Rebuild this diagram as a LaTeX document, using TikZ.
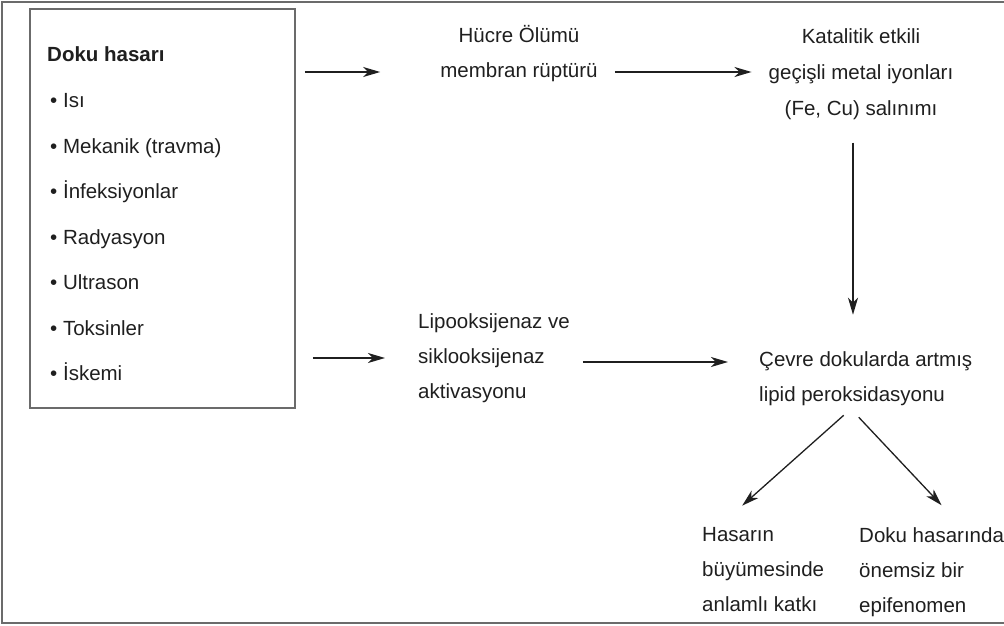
\documentclass[tikz,border=0pt]{standalone}
\usepackage{fontspec}
\setmainfont{Liberation Sans}
\usetikzlibrary{arrows.meta,calc}

\definecolor{ink}{HTML}{1F1F1F}
\definecolor{rim}{HTML}{6B6B6B}

\tikzset{
  lbl/.style={inner sep=0pt, text=ink, font=\fontsize{20.5}{35}\selectfont},
  arr/.style={draw=ink, line width=1.3pt, -{Stealth[length=17pt,width=10pt,inset=5pt]}},
}

\begin{document}
\begin{tikzpicture}[x=1pt,y=-1pt]
            \useasboundingbox (0,0) rectangle (1004,626);
            \draw[rim, line width=1.5pt] (1004,2) -- (2,2) -- (2,623) -- (1004,623);
            \node[draw=rim, line width=1.8pt, minimum width=265pt, minimum height=399pt, inner sep=0pt] (box) at (162.5,208.5) {};
            \node[lbl, anchor=base west, font=\fontsize{20.5}{35}\selectfont\bfseries] (title) at (47,62) {Doku hasarı};
            \foreach \t [count=\i] in {Isı, Mekanik (travma), İnfeksiyonlar, Radyasyon, Ultrason, Toksinler, İskemi}
                \node[lbl, anchor=base west] (item\i) at (50,62+45.5*\i) {\textbullet\ \t};

            \node[lbl, align=center] (hucre) at (519,54) {Hücre Ölümü\\membran rüptürü};
            \node[lbl, align=center, font=\fontsize{20.5}{36}\selectfont] (katalitik) at (861,74) {Katalitik etkili\\geçişli metal iyonları\\(Fe, Cu) salınımı};
            \node[lbl, align=left, anchor=west] (lipo) at (418,358) {Lipooksijenaz ve\\siklooksijenaz\\aktivasyonu};
            \node[lbl, align=left, anchor=west] (cevre) at (759,379) {Çevre dokularda artmış\\lipid peroksidasyonu};
            \node[lbl, align=left, anchor=west] (hasar) at (702,570) {Hasarın\\büyümesinde\\anlamlı katkı};
            \node[lbl, align=left, anchor=west] (epi) at (859,572) {Doku hasarında\\önemsiz bir\\epifenomen};

            \coordinate (row1) at (0,72);
            \coordinate (row2) at (0,358);
            \coordinate (row3) at (0,362);

            \draw[arr, shorten <=9pt, shorten >=60pt] (box.east |- row1) -- (hucre.west |- row1);
            \draw[arr, shorten <=17pt, shorten >=17pt] (hucre.east |- row1) -- (katalitik.west |- row1);
            \draw[arr, shorten <=23pt, shorten >=37pt] ([xshift=-8pt]katalitik.south) -- ([xshift=-8pt]katalitik.south |- cevre.north);
            \draw[arr, shorten <=17pt, shorten >=33pt] (box.east |- row2) -- (lipo.west |- row2);
            \draw[arr, shorten <=13pt, shorten >=31pt] (lipo.east |- row3) -- (cevre.west |- row3);
            \draw[arr] ($(cevre.south)+(-22,9)$) -- ($(hasar.north)+(-21,-22)$);
            \draw[arr] ($(cevre.south)+(-7,11)$) -- ($(epi.north)+(10,-22)$);
        \end{tikzpicture}
\end{document}
